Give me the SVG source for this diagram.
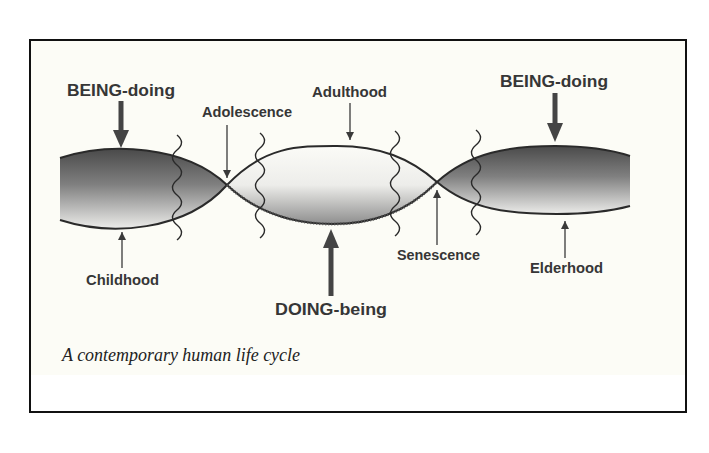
<svg xmlns="http://www.w3.org/2000/svg" width="709" height="453" viewBox="0 0 709 453">
<style>
.lbl{font-family:"Liberation Sans",Arial,sans-serif;font-weight:bold;fill:#363636}
.big{font-size:17px}
.sm{font-size:14.5px}
.edge{fill:none;stroke:#2a2a2a;stroke-width:2}
.sq{fill:none;stroke:#2a2a2a;stroke-width:1.4}
.thin{stroke:#3a3a3a;stroke-width:1.3}
.thick{stroke:#444;stroke-width:5}
.cap{font-family:"Liberation Serif","Times New Roman",serif;font-style:italic;font-size:18.5px;fill:#222}
</style>
<defs>
<linearGradient id="dark" x1="0" y1="0" x2="0" y2="1">
<stop offset="0" stop-color="#4a4a4a"/>
<stop offset="0.45" stop-color="#808080"/>
<stop offset="1" stop-color="#ececea"/>
</linearGradient>
<linearGradient id="light" x1="0" y1="0" x2="0" y2="1">
<stop offset="0" stop-color="#fbfbf7"/>
<stop offset="0.5" stop-color="#ededea"/>
<stop offset="1" stop-color="#8e8e8e"/>
</linearGradient>
<marker id="ah" viewBox="0 0 10 10" refX="10" refY="5" markerWidth="12" markerHeight="8" markerUnits="userSpaceOnUse" orient="auto">
<path d="M0,0 L10,5 L0,10 Z" fill="#3a3a3a"/>
</marker>
</defs>
<rect x="0" y="0" width="709" height="453" fill="#ffffff"/>
<rect x="31" y="40" width="654" height="335" fill="#fcfcf6"/>
<rect x="30" y="40" width="656" height="372" fill="none" stroke="#111" stroke-width="2"/>

<g id="childhood-lobe">
<path d="M60,158 C110,142 185,145 227,185 C185,232 110,236 60,220 Z" fill="url(#dark)"/>
</g>
<g id="adulthood-lobe">
<path d="M227,185 C260,216 300,224 332,224 C370,224 405,214 437,182 C410,158 380,146 337,146 C300,146 265,145 227,185 Z" fill="url(#light)"/>
</g>
<g id="elderhood-lobe">
<path d="M437,182 C470,152 510,146 555,146 C590,146 615,151 630,156 L630,206 C615,210 590,214 557,214 C510,214 470,210 437,182 Z" fill="url(#dark)"/>
</g>

<g id="connectors">
<path class="edge" d="M60,158 C110,142 185,145 227,185 C260,216 300,224 332,224 C370,224 405,214 437,182 C470,152 510,146 555,146 C590,146 615,151 630,156"/>
<path class="edge" d="M60,220 C110,236 185,232 227,185 C265,145 300,146 337,146 C380,146 410,158 437,182 C470,210 510,214 557,214 C590,214 615,210 630,206"/>
<path fill="none" stroke="#555" stroke-width="3" stroke-dasharray="1 2" d="M227,185 C260,216 300,224 332,224 C370,224 405,214 437,182"/>
<path class="sq" d="M177,135 q9,7.5 0,15 t0,15 t0,15 t0,15 t0,15 t0,15 t0,15"/>
<path class="sq" d="M260,133 q9,7.5 0,15 t0,15 t0,15 t0,15 t0,15 t0,15 t0,15"/>
<path class="sq" d="M395,131 q9,7.5 0,15 t0,15 t0,15 t0,15 t0,15 t0,15 t0,15"/>
<path class="sq" d="M476,130 q9,7.5 0,15 t0,15 t0,15 t0,15 t0,15 t0,15 t0,15"/>
<line class="thick" x1="121" y1="101" x2="121" y2="131"/>
<path d="M113,130 L129,130 L121,148 Z" fill="#444"/>
<line class="thick" x1="555" y1="93" x2="555" y2="124"/>
<path d="M547,123 L563,123 L555,142 Z" fill="#444"/>
<line class="thick" x1="331" y1="296" x2="331" y2="246"/>
<path d="M323,248 L339,248 L331,229 Z" fill="#444"/>
<line class="thin" x1="227" y1="125" x2="227" y2="178" marker-end="url(#ah)"/>
<line class="thin" x1="350" y1="103" x2="350" y2="140" marker-end="url(#ah)"/>
<line class="thin" x1="122" y1="268" x2="122" y2="232" marker-end="url(#ah)"/>
<line class="thin" x1="437" y1="245" x2="437" y2="190" marker-end="url(#ah)"/>
<line class="thin" x1="565" y1="258" x2="565" y2="221" marker-end="url(#ah)"/>
</g>

<g id="label-being-doing-left"><text class="lbl big" x="67" y="96" textLength="108" lengthAdjust="spacingAndGlyphs">BEING-doing</text></g>
<g id="label-adolescence"><text class="lbl sm" x="202" y="117" textLength="90" lengthAdjust="spacingAndGlyphs">Adolescence</text></g>
<g id="label-adulthood"><text class="lbl sm" x="312" y="97" textLength="75" lengthAdjust="spacingAndGlyphs">Adulthood</text></g>
<g id="label-being-doing-right"><text class="lbl big" x="500" y="87" textLength="108" lengthAdjust="spacingAndGlyphs">BEING-doing</text></g>
<g id="label-childhood"><text class="lbl sm" x="86" y="285" textLength="73" lengthAdjust="spacingAndGlyphs">Childhood</text></g>
<g id="label-doing-being"><text class="lbl big" x="275" y="315" textLength="112" lengthAdjust="spacingAndGlyphs">DOING-being</text></g>
<g id="label-senescence"><text class="lbl sm" x="397" y="260" textLength="83" lengthAdjust="spacingAndGlyphs">Senescence</text></g>
<g id="label-elderhood"><text class="lbl sm" x="530" y="273" textLength="73" lengthAdjust="spacingAndGlyphs">Elderhood</text></g>
<g id="caption"><text class="cap" x="62" y="361" textLength="238" lengthAdjust="spacingAndGlyphs">A contemporary human life cycle</text></g>
</svg>
